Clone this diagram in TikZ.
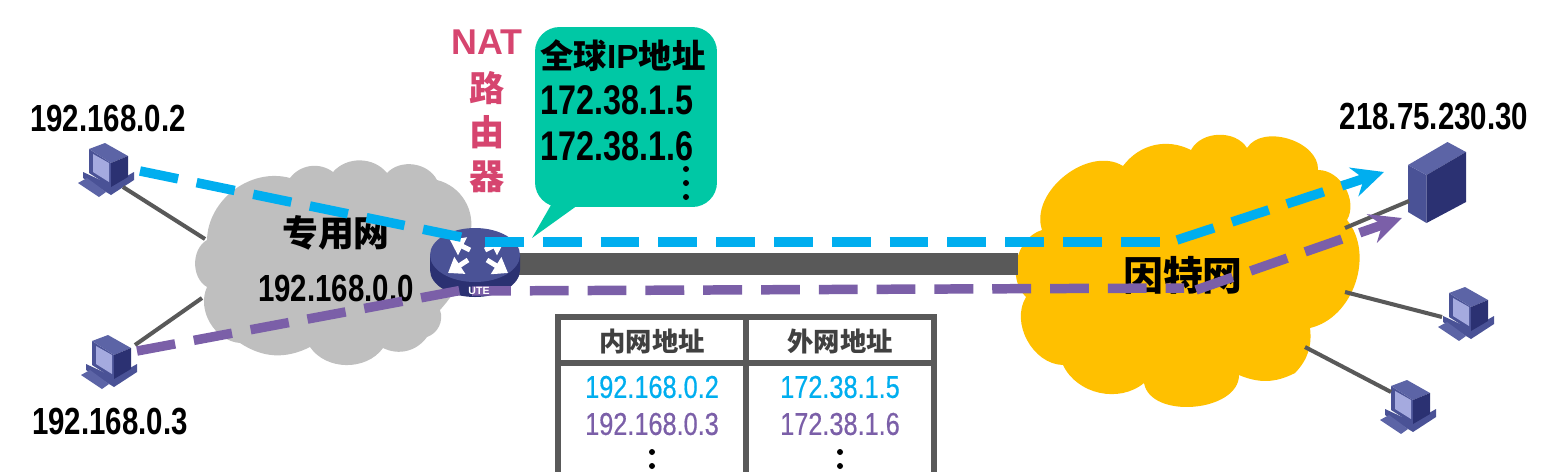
\documentclass[tikz,border=0pt]{standalone}
\usepackage{fontspec}
\setmainfont{Liberation Sans}[FakeStretch=0.78]
\newfontfamily\cjkfont{Noto Sans CJK SC}
\newfontfamily\natfont{Liberation Sans}
\newfontfamily\tablefont{Liberation Sans}[FakeStretch=0.8,FakeBold=0.5]
\usetikzlibrary{arrows.meta}
\definecolor{lanblue}{HTML}{00AEEF}
\definecolor{lanpurple}{HTML}{7B5FA8}
\definecolor{linkgray}{HTML}{595959}
\definecolor{cloudgray}{HTML}{BFBFBF}
\definecolor{cloudgold}{HTML}{FFC000}
\definecolor{calloutgreen}{HTML}{00C8A5}
\definecolor{natpink}{HTML}{D6456F}
\definecolor{hostmid}{HTML}{4A5296}
\definecolor{hostdark}{HTML}{2B3172}
\definecolor{hostlight}{HTML}{5C64A6}
\definecolor{hostscreen}{HTML}{A5AADF}
\begin{document}
\begin{tikzpicture}[x=0.02cm,y=-0.02cm,
    iplabel/.style = {font=\bfseries\fontsize{21.5}{22}\selectfont},
    netlabel/.style = {font=\cjkfont\bfseries\fontsize{20.4}{21}\selectfont},
    natlabel/.style = {font=\cjkfont\bfseries\fontsize{20}{21}\selectfont,text=natpink},
    cell/.style = {rectangle,draw=linkgray,line width=2.9pt,minimum width=3.76cm,outer sep=0mm},
    headtext/.style = {font=\cjkfont\bfseries\fontsize{15}{16}\selectfont,text=black!75},
    tabletext/.style = {font=\tablefont\fontsize{18}{18}\selectfont},
    link/.style = {draw=linkgray,line width=2.3pt},
    route/.style = {line width=5.4pt,dash pattern=on 22.1pt off 10.8pt},
    pics/pc/.style = {code={
        \fill[hostmid] (-23,2) -- (-23,8) -- (5,25) -- (28,10) -- (28,2) -- (5,15) -- cycle;
        \fill[hostlight] (-28,13) -- (-7,27) -- (0,22) -- (-19,8) -- cycle;
        \fill[hostmid] (-17,-21) -- (5,-7) -- (5,17) -- (-17,3) -- cycle;
        \fill[hostlight] (-17,-21) -- (-1,-27) -- (22,-14) -- (5,-7) -- cycle;
        \fill[hostdark] (5,-7) -- (22,-14) -- (22,7) -- (5,17) -- cycle;
        \fill[hostscreen] (-13,-16) -- (3,-7) -- (3,12) -- (-13,2) -- cycle;
    }},
    pics/server/.style = {code={
        \fill[hostmid] (-29,-15) -- (-10.5,-5) -- (-10.5,43) -- (-29,32) -- cycle;
        \fill[hostlight] (-29,-15) -- (10.5,-38) -- (29,-28) -- (-10.5,-5) -- cycle;
        \fill[hostdark] (-10.5,-5) -- (29,-28) -- (29,22) -- (-10.5,43) -- cycle;
    }}]
\path[use as bounding box,clip] (0,0) rectangle (1547,471);
% clouds
\fill[cloudgray] (207,240) \foreach \x/\y/\b in {290/178/52,333/172/45,387/173/50,437/180/55,470/235/45,440/310/20,427/337/45,383/348/40,310/347/55,240/343/30,207/287/55,207/240/60} { to[bend left=\b] (\x,\y) } -- cycle;
\fill[cloudgold] (1042,230) \foreach \x/\y/\b in {1123/166/70,1191/150/40,1247/148/60,1318/170/75,1347/220/60,1310/328/58,1295/373/25,1239/375/25,1144/383/85,1063/365/52,1026/297/60,1042/230/60} { to[bend left=\b] (\x,\y) } -- cycle;
% hosts
\pic at (106,170) {pc};
\pic at (109,362) {pc};
\pic at (1466,314) {pc};
\pic at (1408,407) {pc};
\pic at (1437,180) {server};
\coordinate (pcA) at (123,187);
\coordinate (pcB) at (135,345);
\coordinate (pcC) at (1442,317);
\coordinate (pcD) at (1391,392);
\coordinate (srv) at (1409,201);
\coordinate (lanA) at (205,239);
\coordinate (lanB) at (202,298);
\coordinate (wanA) at (1345,228);
\coordinate (wanB) at (1345,292);
\coordinate (wanC) at (1305,347);
\coordinate (routerEast) at (510,264);
\coordinate (wanWest) at (1018,264);
\draw[link] (pcA) -- (lanA);
\draw[link] (pcB) -- (lanB);
\draw[link] (srv) -- (wanA);
\draw[link] (pcC) -- (wanB);
\draw[link] (pcD) -- (wanC);
\draw[draw=linkgray,line width=13pt] (routerEast) -- (wanWest);
% router
\fill[hostdark] (430,255) -- (430,270) arc[start angle=180,end angle=0,x radius=45,y radius=27] -- (520,255) -- cycle;
\fill[hostmid] (475,255) ellipse[x radius=45,y radius=27];
\foreach \a/\b/\c/\d in {468/260/448/273,487/260/508/273,470/250/450/240,485/250/505/240}
    \draw[white,line width=2.8pt,-{Triangle[length=8pt,width=11pt]}] (\a,\b) -- (\c,\d);
% callout
\node[fill=calloutgreen,rounded corners=14pt,minimum width=3.64cm,minimum height=3.6cm] (pool) at (626,117) {};
\coordinate (poolTip) at (532,238);
\coordinate (poolBaseA) at (551,205);
\coordinate (poolBaseB) at (578,205);
\fill[calloutgreen] (poolBaseA) -- (poolTip) -- (poolBaseB) -- cycle;
\node[anchor=west,inner sep=0pt,font=\natfont\bfseries\fontsize{19}{20}\selectfont] (poolHead) at (540,56) {{\cjkfont 全球}IP{\cjkfont 地址}};
\node[anchor=west,inner sep=0pt,font=\bfseries\fontsize{23.6}{24}\selectfont] (poolA) at (540,100) {172.38.1.5};
\node[anchor=west,inner sep=0pt,font=\bfseries\fontsize{23.6}{24}\selectfont] (poolB) at (540,146) {172.38.1.6};
\foreach \y in {169,183,197} \fill (686,\y) circle[radius=3];
% labels
\node[font=\natfont\bfseries\fontsize{20.4}{21}\selectfont,text=natpink] (nat) at (487,42) {NAT};
\node[natlabel] (natA) at (487,88) {路};
\node[natlabel] (natB) at (487,132) {由};
\node[natlabel] (natC) at (487,177) {器};
\node[iplabel] (ipA) at (108,118) {192.168.0.2};
\node[iplabel] (ipB) at (110,422) {192.168.0.3};
\node[iplabel] (ipSrv) at (1434,117) {218.75.230.30};
\node[iplabel] (ipLan) at (336,288) {192.168.0.0};
\node[netlabel] (lan) at (336,233) {专用网};
\node[font=\cjkfont\bfseries\fontsize{22.7}{23}\selectfont] (wan) at (1183,275) {因特网};
% routes
\coordinate (blueA) at (140,171);
\coordinate (blueB) at (475,240);
\coordinate (blueC) at (485,242);
\coordinate (blueD) at (1165,242);
\coordinate (blueE) at (1177,240);
\coordinate (blueF) at (1384,172);
\draw[route,draw=lanblue] (blueA) -- (blueB);
\draw[route,draw=lanblue] (blueC) -- (blueD);
\draw[route,draw=lanblue,-{Stealth[length=18pt,width=17pt,inset=6pt,lanblue]}] (blueE) -- (blueF);
\coordinate (purpleA) at (137,351);
\coordinate (purpleB) at (468,289);
\coordinate (purpleC) at (472,291);
\coordinate (purpleD) at (1184,288);
\coordinate (purpleE) at (1196,290);
\coordinate (purpleF) at (1402,218);
\draw[route,draw=lanpurple] (purpleA) -- (purpleB);
\draw[route,draw=lanpurple] (purpleC) -- (purpleD);
\draw[route,draw=lanpurple,-{Stealth[length=18pt,width=17pt,inset=6pt,lanpurple]}] (purpleE) -- (purpleF);
\node[text=white,font=\natfont\bfseries\fontsize{6}{6}\selectfont] (ute) at (479,291) {UTE};
% table
\node[cell,minimum height=0.92cm] (headL) at (652,340) {};
\node[cell,minimum height=0.92cm] (headR) at (840,340) {};
\node[cell,minimum height=2.92cm] (bodyL) at (652,436) {};
\node[cell,minimum height=2.92cm] (bodyR) at (840,436) {};
\node[headtext] (headLtext) at (652,341) {内网地址};
\node[headtext] (headRtext) at (840,341) {外网地址};
\foreach \t/\u/\y/\col in {192.168.0.2/172.38.1.5/387/lanblue,192.168.0.3/172.38.1.6/424/lanpurple} {
    \node[tabletext,text=\col] (in\y) at (652,\y) {\t};
    \node[tabletext,text=\col] (out\y) at (840,\y) {\u};
}
\foreach \x in {652,840} \foreach \y in {452,466,480} \fill (\x,\y) circle[radius=3];
\end{tikzpicture}
\end{document}
